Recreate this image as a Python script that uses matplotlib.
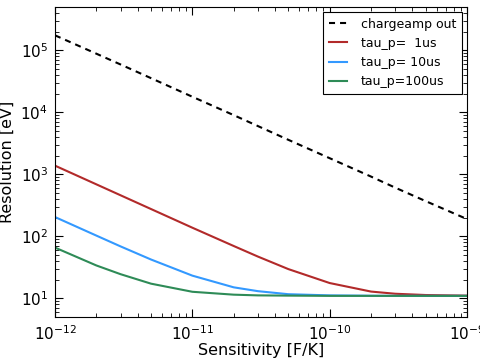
import numpy as np
import matplotlib
matplotlib.use("Agg")
import matplotlib.pyplot as plt

# -- Data ---------------------------------------------------------
sensitivity = [1e-12, 2e-12, 3e-12, 5e-12, 1e-11, 2e-11, 3e-11, 5e-11,
               1e-10, 2e-10, 3e-10, 5e-10, 1e-9]
chargeamp_out = [1.74e5, 8.8e4, 5.9e4, 3.55e4, 1.78e4, 9.0e3, 6.0e3, 3.6e3,
                 1.82e3, 9.2e2, 6.1e2, 3.7e2, 1.9e2]
tau_1us = [1380, 690, 460, 276, 138, 70, 47.3, 29.7,
           17.7, 12.9, 11.9, 11.35, 11.1]
tau_10us = [205, 103, 69, 42.4, 23.3, 15.1, 13.1, 11.7,
            11.2, 11.05, 11.0, 11.0, 11.0]
tau_100us = [66, 34, 24.6, 17.3, 12.8, 11.5, 11.2, 11.1,
             11.0, 11.0, 11.0, 11.0, 11.0]

labels = ["chargeamp out", "tau_p=  1us", "tau_p= 10us", "tau_p=100us"]

# -- Figure --------------------------------------------------------
plt.rcParams.update({
    "font.family": "DejaVu Sans",
    "xtick.direction": "in",
    "ytick.direction": "in",
    "xtick.top": True,
    "ytick.right": True,
    "xtick.major.size": 6,
    "ytick.major.size": 6,
    "xtick.minor.size": 3,
    "ytick.minor.size": 3,
    "xtick.major.pad": 5,
    "ytick.major.pad": 5,
})

fig = plt.figure(figsize=(4.8, 3.62), dpi=100)
ax = fig.add_axes([0.1146, 0.124, 0.8584, 0.857])

ax.plot(sensitivity, chargeamp_out, color="black", ls=(0, (2.9, 2.4)),
        lw=1.5, label=labels[0])
ax.plot(sensitivity, tau_1us, color="#b22a2a", lw=1.5, label=labels[1])
ax.plot(sensitivity, tau_10us, color="#3399ff", lw=1.5, label=labels[2])
ax.plot(sensitivity, tau_100us, color="#2e8b57", lw=1.5, label=labels[3])

ax.set_xscale("log")
ax.set_yscale("log")
ax.set_xlim(1e-12, 1e-9)
ax.set_ylim(5, 5e5)

ax.tick_params(labelsize=11)
ax.set_xlabel("Sensitivity [F/K]", fontsize=11.5)
ax.set_ylabel("Resolution [eV]", fontsize=11.5)
ax.xaxis.set_label_coords(0.5, -0.083)
ax.yaxis.set_label_coords(-0.097, 0.5)

leg = ax.legend(loc="upper right", fontsize=9, fancybox=False,
                edgecolor="black", framealpha=1, handlelength=1.5,
                handletextpad=1.1, borderpad=0.45, borderaxespad=0.4)
leg.get_frame().set_linewidth(0.8)

fig.savefig("out.png", dpi=100)
